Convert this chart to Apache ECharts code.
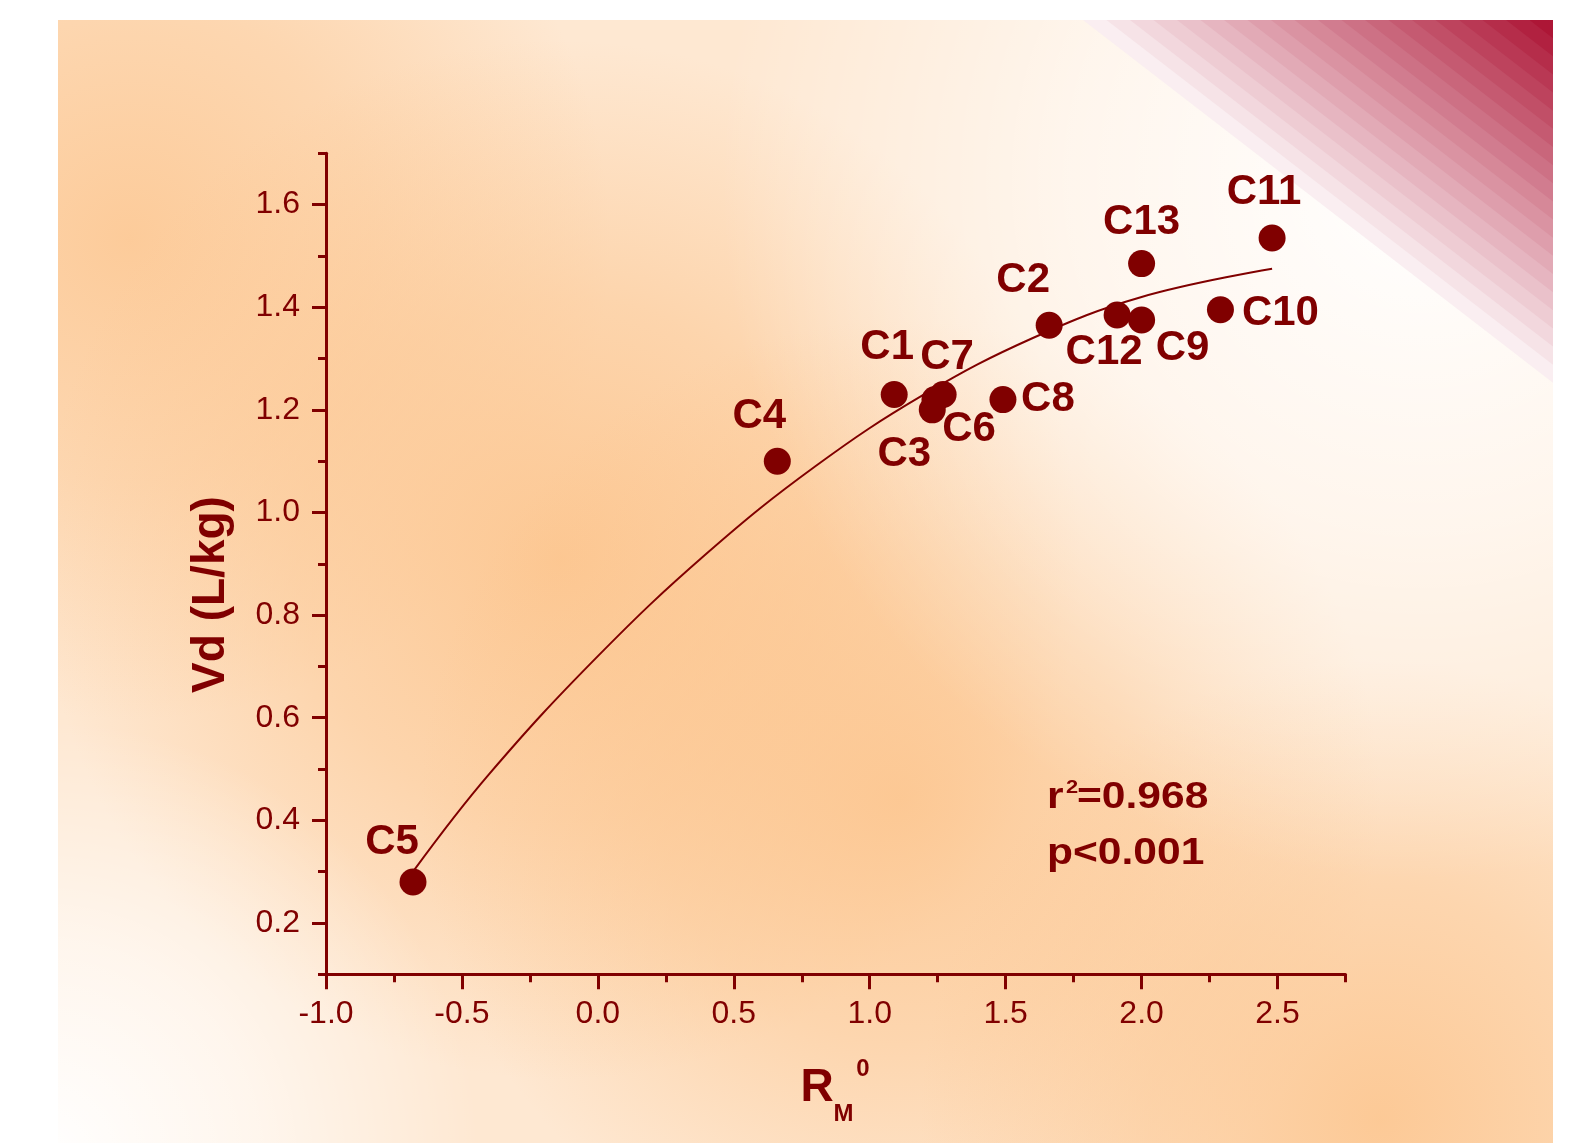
<!DOCTYPE html>
<html><head><meta charset="utf-8">
<script src="https://cdn.jsdelivr.net/npm/echarts@6/dist/echarts.min.js"></script>
<style>html,body{margin:0;padding:0;background:#fff}#c{width:1578px;height:1143px}</style>
</head><body><div id="c"></div>
<script>
// ---- data ----
const names = ['C1','C2','C3','C4','C5','C6','C7','C8','C9','C10','C11','C12','C13'];
const rm0   = [1.09, 1.66, 1.23, 0.66, -0.68, 1.24, 1.27, 1.49, 2.00, 2.29, 2.48, 1.91, 2.00];
const vd    = [1.23, 1.365, 1.20, 1.10, 0.28, 1.22, 1.23, 1.22, 1.375, 1.395, 1.535, 1.385, 1.485];
const fitX  = [-0.68, -0.4, 0.0, 0.4, 0.8, 1.2, 1.6, 2.0, 2.48];
const fitY  = [0.30, 0.49, 0.72, 0.92, 1.09, 1.23, 1.34, 1.42, 1.475];
const xMajorTicks = [-1.0, -0.5, 0.0, 0.5, 1.0, 1.5, 2.0, 2.5];
const xMinorTicks = [-0.75, -0.25, 0.25, 0.75, 1.25, 1.75, 2.25, 2.75];
const yMajorTicks = [0.2, 0.4, 0.6, 0.8, 1.0, 1.2, 1.4, 1.6];
const yMinorTicks = [0.1, 0.3, 0.5, 0.7, 0.9, 1.1, 1.3, 1.5, 1.7];

// ---- label placement (style, not data) ----
const labelOffsets = {
  C1:[-7,-47], C2:[-26,-45], C3:[-28,45], C4:[-18,-45], C5:[-21,-40], C6:[34,30],
  C7:[4,-37], C8:[45,0], C9:[41,28], C10:[60,4], C11:[-8,-46], C12:[-13,37], C13:[0,-41]
};

const C = '#800000';
const FONT = '"Liberation Sans", Arial, sans-serif';

// ---- background ----
const P = {x:58, y:20, w:1495, h:1123};
function radial(cx, cy, r, stops){ return new echarts.graphic.RadialGradient(cx, cy, r, stops, true); }
function blob(cx, cy, r, rgb, a){
  return {type:'rect', silent:true, z:-100, shape:{x:P.x,y:P.y,width:P.w,height:P.h},
    style:{fill: radial(cx, cy, r, [
      {offset:0, color:'rgba('+rgb+','+a+')'},
      {offset:0.5, color:'rgba('+rgb+','+(a*0.6)+')'},
      {offset:1, color:'rgba('+rgb+',0)'}])}};
}
const OR = '252,196,140', WH = '255,255,255';
const bg = [
  {type:'rect', silent:true, z:-100, shape:{x:P.x,y:P.y,width:P.w,height:P.h}, style:{fill:'#FEE8D2'}},
  blob(130, 240, 480, OR, 0.8),
  blob(560, 560, 520, OR, 0.9),
  blob(900, 800, 480, OR, 0.85),
  blob(1380, 1120, 460, OR, 0.85),
  blob(1420, 180, 700, WH, 1.0),
  blob(40, 1160, 440, WH, 1.0),
];
// corner stripes
const corner = [P.x + P.w, P.y];
const Lmax = 470, slope = 0.772, nBands = 20;
const c0 = [250,238,241], c1 = [173,22,54];
for (let k = 0; k < nBands; k++) {
  const L = Lmax * (1 - k / nBands);
  const t = k / (nBands - 1);
  const col = 'rgb(' + c0.map((v,i)=>Math.round(v + (c1[i]-v)*t)).join(',') + ')';
  bg.push({type:'polygon', silent:true, z:-90,
    shape:{points:[[corner[0]-L, corner[1]], [corner[0], corner[1]], [corner[0], corner[1] + L*slope]]},
    style:{fill:col}});
}

// ---- texts ----
const SX = 1.15;
const texts = [
  {type:'text', z:100, silent:true, x:211, y:594.5, rotation:Math.PI/2,
    style:{text:'Vd (L/kg)', fill:C, font:'bold 46px '+FONT, textAlign:'center', textVerticalAlign:'middle'}},
  {type:'text', z:100, silent:true, x:817, y:1088,
    style:{text:'R', fill:C, font:'bold 46px '+FONT, textAlign:'center', textVerticalAlign:'middle'}},
  {type:'text', z:100, silent:true, x:843.5, y:1114.5,
    style:{text:'M', fill:C, font:'bold 24px '+FONT, textAlign:'center', textVerticalAlign:'middle'}},
  {type:'text', z:100, silent:true, x:863, y:1069.5,
    style:{text:'0', fill:C, font:'bold 24px '+FONT, textAlign:'center', textVerticalAlign:'middle'}},
  {type:'text', z:100, silent:true, x:1047, y:797.5, scaleX:SX,
    style:{text:'r', fill:C, font:'bold 37px '+FONT, textAlign:'left', textVerticalAlign:'middle'}},
  {type:'text', z:100, silent:true, x:1066, y:788, scaleX:SX,
    style:{text:'2', fill:C, font:'bold 19px '+FONT, textAlign:'left', textVerticalAlign:'middle'}},
  {type:'text', z:100, silent:true, x:1077, y:797.5, scaleX:SX,
    style:{text:'=0.968', fill:C, font:'bold 37px '+FONT, textAlign:'left', textVerticalAlign:'middle'}},
  {type:'text', z:100, silent:true, x:1047, y:853.5, scaleX:SX,
    style:{text:'p<0.001', fill:C, font:'bold 37px '+FONT, textAlign:'left', textVerticalAlign:'middle'}},
];

const chart = echarts.init(document.getElementById('c'), null, {renderer:'canvas'});
const axisCommon = {type:'value', splitLine:{show:false}};
chart.setOption({
  animation:false,
  backgroundColor:'#ffffff',
  graphic: bg.concat(texts),
  grid:{left:326, right:232.5, top:153.3, bottom:168.7, containLabel:false},
  xAxis:[
    Object.assign({}, axisCommon, {min:-1, max:2.75, position:'bottom',
      axisLine:{show:true, onZero:false, lineStyle:{color:C, width:3}},
      axisTick:{show:true, customValues:xMajorTicks, length:15, lineStyle:{color:C, width:3}},
      axisLabel:{show:true, customValues:xMajorTicks, color:C, fontSize:32, fontFamily:FONT, margin:24,
        formatter:v=>v.toFixed(1)}}),
    Object.assign({}, axisCommon, {min:-1, max:2.75, position:'bottom', offset:0,
      axisLine:{show:false, onZero:false},
      axisTick:{show:true, customValues:xMinorTicks, length:8, lineStyle:{color:C, width:3}},
      axisLabel:{show:false}})
  ],
  yAxis:[
    Object.assign({}, axisCommon, {min:0.1, max:1.7, position:'left',
      axisLine:{show:true, onZero:false, lineStyle:{color:C, width:3}},
      axisTick:{show:true, customValues:yMajorTicks, length:14, lineStyle:{color:C, width:3}},
      axisLabel:{show:true, customValues:yMajorTicks, color:C, fontSize:32, fontFamily:FONT, margin:26,
        formatter:v=>v.toFixed(1)}}),
    Object.assign({}, axisCommon, {min:0.1, max:1.7, position:'left', offset:0,
      axisLine:{show:false, onZero:false},
      axisTick:{show:true, customValues:yMinorTicks, length:8, lineStyle:{color:C, width:3}},
      axisLabel:{show:false}})
  ],
  series:[
    {type:'line', xAxisIndex:0, yAxisIndex:0, z:2, smooth:0.4, showSymbol:false, silent:true,
      lineStyle:{color:C, width:2}, data: fitX.map((x,i)=>[x, fitY[i]])},
    {type:'scatter', xAxisIndex:0, yAxisIndex:0, z:3, symbol:'circle', symbolSize:27, silent:true,
      itemStyle:{color:C, opacity:1},
      label:{show:true, position:'inside', color:C, opacity:1, fontSize:42, fontWeight:'bold', fontFamily:FONT,
        formatter:p=>p.name},
      data: names.map((n,i)=>({name:n, value:[rm0[i], vd[i]], label:{offset:labelOffsets[n]}}))}
  ]
});
</script></body></html>
